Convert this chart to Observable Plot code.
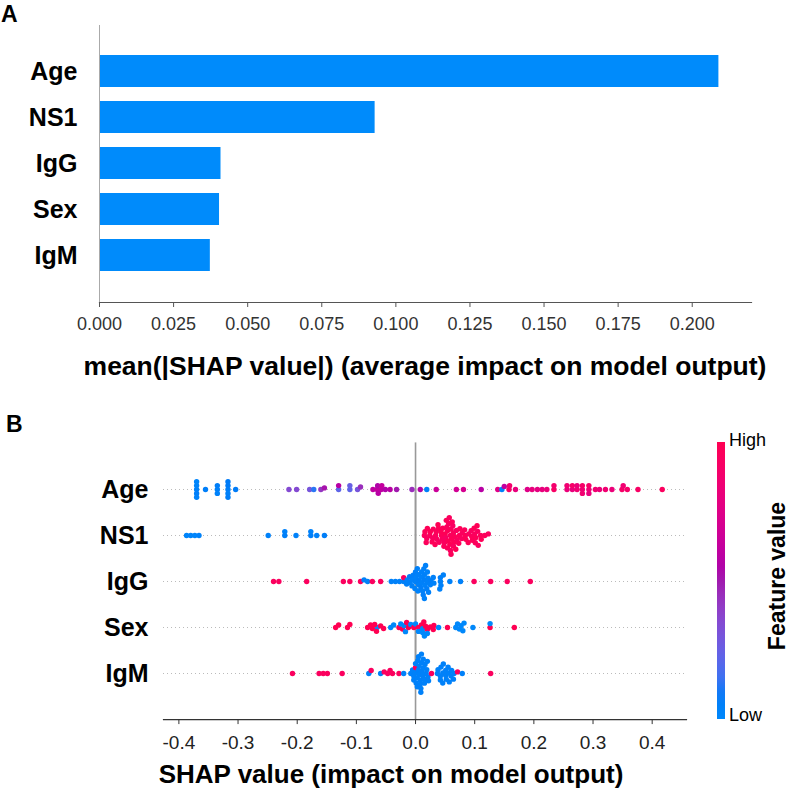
<!DOCTYPE html>
<html>
<head>
<meta charset="utf-8">
<script src="https://cdn.jsdelivr.net/npm/d3@7"></script>
<script src="https://cdn.jsdelivr.net/npm/@observablehq/plot@0.6"></script>
<style>
  html, body { margin: 0; padding: 0; background: #fff; }
  #root { position: relative; width: 791px; height: 788px; font-family: "Liberation Sans", Arial, Helvetica, sans-serif; color: #000; overflow: hidden; }
  #root > svg, #root > div { position: absolute; }
  .lbl { font-weight: bold; white-space: nowrap; line-height: 1; }
</style>
</head>
<body>
<div id="root"></div>
<script>
// ---------- data ----------
const features = ["Age", "NS1", "IgG", "Sex", "IgM"];
const meanAbsShap = [0.209, 0.093, 0.041, 0.0405, 0.0374];
const barTicks = [0, 0.025, 0.05, 0.075, 0.1, 0.125, 0.15, 0.175, 0.2];
const shapTicks = [-0.4, -0.3, -0.2, -0.1, 0, 0.1, 0.2, 0.3, 0.4];

const ageShap = [
  -0.370, -0.370, -0.370, -0.370, -0.370,
  -0.355,
  -0.335, -0.335, -0.335,
  -0.317, -0.317, -0.317, -0.317, -0.317,
  -0.304,
  -0.214, -0.201,
  -0.179, -0.172, -0.160, -0.154,
  -0.130, -0.130,
  -0.111, -0.111, -0.098, -0.093,
  -0.072, -0.065, -0.064, -0.063, -0.058, -0.057, -0.051, -0.043, -0.032,
  -0.006, 0.008, 0.019, 0.035,
  0.069, 0.081, 0.111, 0.139, 0.146, 0.150,
  0.158, 0.159, 0.169,
  0.189, 0.197, 0.206, 0.214, 0.222,
  0.234, 0.234,
  0.256, 0.256, 0.265, 0.265,
  0.273, 0.273,
  0.282, 0.282, 0.282,
  0.293, 0.293, 0.293,
  0.304, 0.311, 0.321, 0.332,
  0.349, 0.351, 0.358,
  0.376, 0.417
];
const ageFeat = [
  0.05, 0.03, 0.06, 0.02, 0.04,
  0.06,
  0.05, 0.07, 0.04,
  0.06, 0.08, 0.05, 0.07, 0.09,
  0.08,
  0.35, 0.35,
  0.30, 0.12, 0.42, 0.52,
  0.22, 0.58,
  0.22, 0.25, 0.30, 0.45,
  0.60, 0.62, 0.55, 0.58, 0.60, 0.62, 0.55, 0.58, 0.50,
  0.45, 0.55, 0.05, 0.65,
  0.68, 0.70, 0.58, 0.75, 0.05, 0.62,
  0.92, 0.88, 0.80,
  0.75, 0.80, 0.78, 0.80, 0.82,
  0.92, 0.88,
  0.82, 0.86, 0.80, 0.90,
  0.86, 0.82,
  0.85, 0.90, 0.86,
  0.84, 0.90, 0.80,
  0.86, 0.82, 0.86, 0.82,
  0.90, 0.86, 0.90,
  0.92, 0.95
];

const ns1Shap = [
  -0.387, -0.380, -0.373, -0.366,
  -0.249, -0.221, -0.221, -0.202, -0.177, -0.177, -0.167, -0.154,
  0.015, 0.016, 0.019, 0.020, 0.018, 0.024, 0.025, 0.029, 0.028, 0.030,
  0.034, 0.033, 0.035, 0.036, 0.039, 0.038, 0.040, 0.044, 0.043, 0.045,
  0.046, 0.049, 0.048, 0.050, 0.051, 0.054, 0.053, 0.055, 0.054, 0.056,
  0.052, 0.059, 0.058, 0.060, 0.059, 0.061, 0.057, 0.060, 0.064, 0.063,
  0.065, 0.064, 0.066, 0.062, 0.069, 0.068, 0.070, 0.074, 0.073, 0.075,
  0.079, 0.078, 0.084, 0.083, 0.085, 0.090, 0.089, 0.095, 0.094, 0.096,
  0.100, 0.099, 0.101, 0.102, 0.105, 0.104, 0.106, 0.110, 0.111, 0.117,
  0.123
];
const ns1Feat = [
  0.02, 0.03, 0.02, 0.04,
  0.05, 0.06, 0.04, 0.05, 0.06, 0.04, 0.05, 0.07,
  0.95, 0.97, 0.94, 0.98, 0.96, 0.95, 0.99, 0.93, 0.97, 0.96,
  0.95, 0.98, 0.96, 0.94, 0.97, 0.99, 0.95, 0.96, 0.98, 0.94,
  0.97, 0.95, 0.96, 0.99, 0.93, 0.97, 0.95, 0.98, 0.96, 0.94,
  0.97, 0.95, 0.99, 0.96, 0.94, 0.98, 0.95, 0.97, 0.96, 0.93,
  0.98, 0.95, 0.97, 0.96, 0.94, 0.99, 0.95, 0.97, 0.96, 0.98,
  0.95, 0.94, 0.97, 0.96, 0.99, 0.95, 0.98, 0.96, 0.94, 0.97,
  0.95, 0.98, 0.96, 0.97, 0.94, 0.99, 0.95, 0.96, 0.98, 0.97,
  0.95
];

const iggShap = [
  -0.240, -0.231, -0.184, -0.122, -0.111, -0.093, -0.087, -0.081, -0.073, -0.059,
  -0.041, -0.034, -0.027, -0.020, -0.020,
  -0.015, -0.014, -0.010, -0.009, -0.005, -0.006, -0.004, 0.000, 0.001, -0.001, 0.000,
  0.005, 0.004, 0.006, 0.005, 0.003, 0.010, 0.009, 0.011, 0.010, 0.012,
  0.015, 0.014, 0.016, 0.015, 0.013, 0.017, 0.015, 0.020, 0.019, 0.021, 0.020, 0.022,
  0.025, 0.026, 0.030, 0.031,
  0.042, 0.042, 0.043, 0.041, 0.047, 0.058, 0.076,
  0.099, 0.127, 0.155, 0.194
];
const iggFeat = [
  0.95, 0.95, 0.95, 0.95, 0.95, 0.95, 0.05, 0.05, 0.95, 0.95,
  0.05, 0.05, 0.05, 0.05, 0.95,
  0.05, 0.04, 0.06, 0.05, 0.04, 0.05, 0.06, 0.05, 0.04, 0.05, 0.06,
  0.05, 0.04, 0.06, 0.05, 0.05, 0.04, 0.06, 0.05, 0.04, 0.05,
  0.06, 0.05, 0.04, 0.05, 0.06, 0.05, 0.04, 0.05, 0.06, 0.05, 0.04, 0.05,
  0.05, 0.06, 0.05, 0.04,
  0.05, 0.06, 0.05, 0.04, 0.05, 0.05, 0.05,
  0.95, 0.95, 0.95, 0.95
];

const sexShap = [
  -0.135, -0.130, -0.115, -0.111, -0.081, -0.065, -0.076, -0.073, -0.069, -0.066,
  -0.059, -0.054, -0.042, -0.037, -0.028, -0.025, -0.022, -0.019, -0.017, -0.015,
  -0.012, -0.008, -0.003, 0.000, 0.005, 0.005, 0.010, 0.012, 0.012, 0.014,
  0.015, 0.017, 0.020, 0.020, 0.025, 0.030, 0.031, 0.039, 0.054, 0.068,
  0.071, 0.074, 0.077, 0.080, 0.082, 0.097, 0.126, 0.126, 0.167
];
const sexFeat = [
  1, 1, 1, 1, 1, 0, 1, 1, 1, 1,
  1, 1, 0, 0, 1, 0, 1, 0, 0, 1,
  1, 0, 1, 0, 1, 0, 1, 0, 0, 1,
  0, 1, 1, 0, 1, 1, 1, 0, 1, 0,
  0, 0, 0, 0, 0, 0, 1, 0, 1
];

const igmShap = [
  -0.208, -0.163, -0.156, -0.149, -0.124, -0.079, -0.075, -0.059, -0.053, -0.047,
  -0.043, -0.039, -0.028, -0.020, -0.008, -0.005, -0.003, -0.003, 0.000, 0.000,
  0.000, 0.001, 0.003, 0.003, 0.004, 0.005, 0.005, 0.006, 0.006, 0.008,
  0.008, 0.009, 0.009, 0.010, 0.010, 0.011, 0.012, 0.013, 0.013, 0.015,
  0.015, 0.016, 0.018, 0.019, 0.020, 0.021, 0.022, 0.027, 0.037, 0.038,
  0.042, 0.042, 0.043, 0.046, 0.046, 0.047, 0.051, 0.051, 0.052, 0.055,
  0.056, 0.057, 0.060, 0.061, 0.064, 0.065, 0.071, 0.079, 0.127
];
const igmFeat = [
  0.95, 0.95, 0.95, 0.95, 0.95, 0.05, 0.95, 0.05, 0.95, 0.95,
  0.95, 0.95, 0.95, 0.05, 0.05, 0.05, 0.05, 0.05, 0.05, 0.95,
  0.05, 0.05, 0.05, 0.05, 0.05, 0.05, 0.05, 0.05, 0.05, 0.05,
  0.05, 0.05, 0.05, 0.05, 0.05, 0.05, 0.05, 0.05, 0.05, 0.05,
  0.05, 0.05, 0.05, 0.05, 0.05, 0.05, 0.05, 0.95, 0.05, 0.05,
  0.05, 0.05, 0.05, 0.05, 0.05, 0.05, 0.05, 0.05, 0.05, 0.05,
  0.05, 0.05, 0.05, 0.05, 0.05, 0.05, 0.95, 0.05, 0.95
];

// ---------- tables ----------
const barData = features.map((f, i) => ({feature: f, value: meanAbsShap[i]}));
const shapByFeature = {Age: [ageShap, ageFeat], NS1: [ns1Shap, ns1Feat], IgG: [iggShap, iggFeat], Sex: [sexShap, sexFeat], IgM: [igmShap, igmFeat]};
const beeData = features.flatMap(f => shapByFeature[f][0].map((s, i) => ({feature: f, shap: s, fv: shapByFeature[f][1][i]})));

// SHAP-style red/blue colour map: LCh path, blue -> dark purple -> red
const blue = "#008bfb";
const shapColor = t => {
  const l = t < 0.5 ? 54 - 28 * t : 40 + 28 * (t - 0.5);
  const c = 70 + 20 * t;
  const h = 266.9 + (380.3 - 266.9) * t;
  return d3.hcl(h % 360, c, l).formatRgb();
};
const font = "'Liberation Sans', Arial, Helvetica, sans-serif";
const root = document.getElementById("root");

function label(text, css) {
  const d = document.createElement("div");
  d.className = "lbl";
  d.textContent = text;
  Object.assign(d.style, css);
  root.appendChild(d);
  return d;
}

// ---------- Panel A ----------
const plotA = Plot.plot({
  width: 791, height: 390,
  marginTop: 25, marginBottom: 88, marginLeft: 99, marginRight: 40,
  style: {fontFamily: font, background: "transparent", overflow: "visible"},
  x: {domain: [0, 0.22]},
  y: {domain: features, padding: 0.31, insetTop: 14.6, insetBottom: 16},
  marks: [
    Plot.barX(barData, {x: "value", y: "feature", fill: blue}),
    Plot.ruleX([0], {stroke: "#aaa", strokeWidth: 1}),
    Plot.frame({anchor: "bottom", stroke: "#555", strokeWidth: 1.2}),
    Plot.axisY({tickSize: 0, tickPadding: 22, fontSize: 25, fontWeight: "bold", label: null, fill: "#000"}),
    Plot.axisX({ticks: barTicks, tickFormat: d => d.toFixed(3), tickSize: 5, tickPadding: 10, fontSize: 18, label: null, stroke: "#555", fill: "#333"})
  ]
});
plotA.style.left = "0px"; plotA.style.top = "0px";
root.appendChild(plotA);

// ---------- Panel B ----------
const rowHalf = 277 / 12; // half a facet row, used to extend lines to the frame edges
const plotB = Plot.plot({
  width: 791, height: 398,
  marginTop: 52, marginBottom: 69, marginLeft: 163, marginRight: 105,
  style: {fontFamily: font, background: "transparent", overflow: "visible"},
  x: {domain: [-0.426, 0.458]},
  y: {domain: [-1, 1], axis: null},
  fy: {domain: features, paddingInner: 0, paddingOuter: 0.5},
  color: {type: "linear", domain: [0, 1], interpolate: shapColor},
  marks: [
    Plot.ruleY([0], {stroke: "#bbb", strokeWidth: 1, strokeDasharray: "1,3"}),
    Plot.ruleX([0], {stroke: "#999", strokeWidth: 1.6, insetTop: -rowHalf - 0.5, insetBottom: -rowHalf - 0.5}),
    Plot.dot(beeData, Plot.dodgeY({anchor: "middle", padding: -1.5}, {x: "shap", fy: "feature", fill: "fv", r: 2.7})),
    Plot.axisFy({anchor: "left", tickSize: 0, tickPadding: 15, fontSize: 25, fontWeight: "bold", label: null, fill: "#000"}),
    Plot.frame({anchor: "bottom", facetAnchor: "bottom", dy: rowHalf, stroke: "#333", strokeWidth: 1.2}),
    Plot.axisX({facetAnchor: "bottom", dy: rowHalf, ticks: shapTicks, tickFormat: d => d.toFixed(1), tickSize: 5, tickPadding: 11, fontSize: 19, label: null, stroke: "#333", fill: "#222"})
  ]
});
plotB.style.left = "0px"; plotB.style.top = "390px";
root.appendChild(plotB);

// ---------- colour bar ----------
const cbTop = 442, cbHeight = 277;
const cb = d3.create("svg").attr("width", 8).attr("height", cbHeight)
  .style("left", "717px").style("top", cbTop + "px");
const grad = cb.append("defs").append("linearGradient").attr("id", "cbgrad")
  .attr("x1", 0).attr("y1", 1).attr("x2", 0).attr("y2", 0);
d3.range(0, 1.0001, 0.05).forEach(t => grad.append("stop").attr("offset", t).attr("stop-color", shapColor(t)));
cb.append("rect").attr("width", 8).attr("height", cbHeight).attr("fill", "url(#cbgrad)");
root.appendChild(cb.node());

label("A", {left: "1px", top: "3px", fontSize: "23px"});
label("B", {left: "6px", top: "413px", fontSize: "23px"});
label("mean(|SHAP value|) (average impact on model output)", {left: "425px", top: "353px", fontSize: "26.5px", transform: "translateX(-50%)"});
label("SHAP value (impact on model output)", {left: "391px", top: "761px", fontSize: "26px", transform: "translateX(-50%)"});
label("High", {left: "729px", top: "431px", fontSize: "18px", fontWeight: "normal"});
label("Low", {left: "729px", top: "706px", fontSize: "18px", fontWeight: "normal"});
label("Feature value", {left: "777px", top: "576px", fontSize: "23px", transform: "translate(-50%, -50%) rotate(-90deg)"});
</script>
</body>
</html>
